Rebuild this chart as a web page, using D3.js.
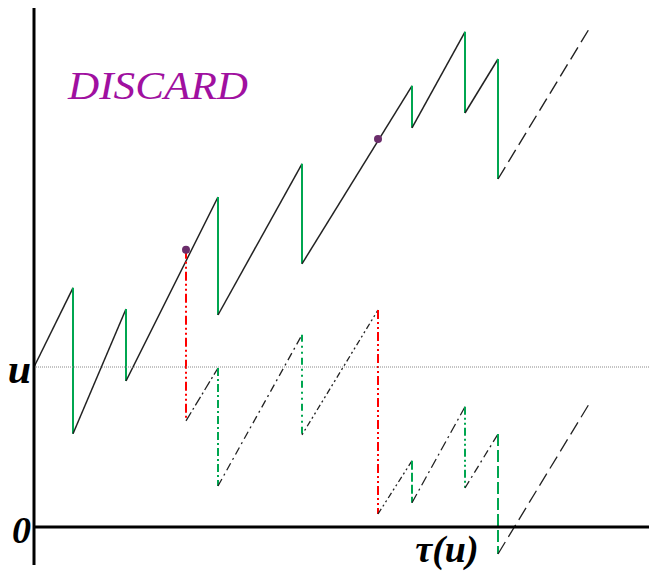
<!DOCTYPE html>
<html>
<head>
<meta charset="utf-8">
<script src="https://cdn.jsdelivr.net/npm/d3@7/dist/d3.min.js"></script>
<style>
html,body{margin:0;padding:0;background:#fff;}
svg{display:block;}
</style>
</head>
<body>
<svg id="chart" width="649" height="572"></svg>
<script>
// ---- data ----
const startLevel = 4.0;           // u
const claimTimes   = [0.975, 2.3, 4.6, 6.7, 9.45, 10.775, 11.6];
const preClaim     = [5.98, 5.45, 8.25, 9.08, 11.03, 12.38, 11.7];
const postClaim    = [2.33, 3.65, 5.3, 6.58, 9.98, 10.35, 8.7];
const discardTimes = [3.8, 8.6];
const discardLevels = [6.93, 9.7];
const discardShift = [4.275, 9.375];   // cumulative drop of lower path
const endTime = 13.925;
const endLevel = 12.53;
const ruinIndex = 6;
const labels = {u: "u", zero: "0", tau: "τ(u)", title: "DISCARD"};

// ---- scales ----
const W = 649, H = 572;
const x = d3.scaleLinear().domain([0, 15.375]).range([34, 649]);
const y = d3.scaleLinear().domain([0, 4]).range([527, 367]);
const svg = d3.select("#chart");

const green = "#00a650", red = "#ff0000", black = "#222";
const line = d3.line().x(d => x(d[0])).y(d => y(d[1]));

// ---- upper (original) path ----
const upper = [[0, startLevel]];
claimTimes.forEach((t, i) => { upper.push([t, preClaim[i]]); upper.push([t, postClaim[i]]); });

// drift segments
let prev = [0, startLevel];
claimTimes.forEach((t, i) => {
  svg.append("path").attr("d", line([prev, [t, preClaim[i]]]))
    .attr("stroke", black).attr("stroke-width", 1.5).attr("fill", "none");
  svg.append("path").attr("d", line([[t, preClaim[i]], [t, postClaim[i]]]))
    .attr("stroke", green).attr("stroke-width", 2).attr("fill", "none");
  prev = [t, postClaim[i]];
});
svg.append("path").attr("d", line([prev, [endTime, endLevel]]))
  .attr("stroke", black).attr("stroke-width", 1.4).attr("fill", "none")
  .attr("stroke-dasharray", "14,6");

// ---- lower (discarded) path ----
function shiftAt(t) {
  let s = 0;
  discardTimes.forEach((d, i) => { if (t >= d) s = discardShift[i]; });
  return s;
}
const driftDash = ["10,3,2,3", "8,4,2,4", "2,3,2,3,6,3", "6,3,2,3,2,3", "10,4,2,4", "8,4,2,4", "14,6"];
const jumpDash = ["8,3,2,3", "7,4,2,4,2,4", "9,3", "8,3,2,3,2,3", "12,4"];
// build lower segments starting after first discard
const events = [];
discardTimes.forEach((t, i) => events.push({t, type: "d", i}));
claimTimes.forEach((t, i) => { if (t > discardTimes[0]) events.push({t, type: "c", i}); });
events.sort((a, b) => a.t - b.t);

let cur = [discardTimes[0], discardLevels[0] - discardShift[0]];
let di = 0, ji = 0;
events.forEach((e, k) => {
  if (e.type === "d") {
    if (k > 0) {
      const top = [e.t, discardLevels[e.i] - discardShift[e.i - 1]];
      svg.append("path").attr("d", line([cur, top]))
        .attr("stroke", black).attr("stroke-width", 1.3).attr("fill", "none")
        .attr("stroke-dasharray", driftDash[di++]);
    }
    const from = e.i === 0 ? [e.t, discardLevels[0]] : [e.t, discardLevels[e.i] - discardShift[e.i - 1]];
    const to = [e.t, discardLevels[e.i] - discardShift[e.i]];
    svg.append("path").attr("d", line([from, to]))
      .attr("stroke", red).attr("stroke-width", 2).attr("fill", "none")
      .attr("stroke-dasharray", "9,3,2,3,2,3");
    cur = to;
  } else {
    const s = shiftAt(e.t);
    const top = [e.t, preClaim[e.i] - s], bot = [e.t, postClaim[e.i] - s];
    svg.append("path").attr("d", line([cur, top]))
      .attr("stroke", black).attr("stroke-width", 1.3).attr("fill", "none")
      .attr("stroke-dasharray", driftDash[di++]);
    svg.append("path").attr("d", line([top, bot]))
      .attr("stroke", green).attr("stroke-width", 2).attr("fill", "none")
      .attr("stroke-dasharray", jumpDash[ji++]);
    cur = bot;
  }
});
svg.append("path").attr("d", line([cur, [endTime, endLevel - shiftAt(endTime)]]))
  .attr("stroke", black).attr("stroke-width", 1.3).attr("fill", "none")
  .attr("stroke-dasharray", driftDash[6]);

// ---- reference line u ----
svg.append("line").attr("x1", x(0)).attr("x2", W).attr("y1", y(startLevel)).attr("y2", y(startLevel))
  .attr("stroke", "#888").attr("stroke-width", 1).attr("stroke-dasharray", "1,1");

// ---- axes ----
svg.append("line").attr("x1", x(0)).attr("x2", x(0)).attr("y1", 8).attr("y2", 565)
  .attr("stroke", "#000").attr("stroke-width", 3);
svg.append("line").attr("x1", x(0)).attr("x2", W).attr("y1", y(0)).attr("y2", y(0))
  .attr("stroke", "#000").attr("stroke-width", 3);

// ---- discard dots ----
discardTimes.forEach((t, i) => {
  svg.append("circle").attr("cx", x(t)).attr("cy", y(discardLevels[i])).attr("r", 4)
    .attr("fill", "#6b2d6b");
});

// ---- text ----
const serif = "'Liberation Serif','DejaVu Serif',serif";
svg.append("text").attr("x", 68).attr("y", 99).text(labels.title)
  .attr("font-family", serif).attr("font-style", "italic").attr("font-size", 40)
  .attr("fill", "#a010a0").attr("textLength", 180).attr("lengthAdjust", "spacingAndGlyphs");
svg.append("text").attr("x", 31).attr("y", y(startLevel) + 16).text(labels.u)
  .attr("text-anchor", "end").attr("font-family", serif).attr("font-style", "italic")
  .attr("font-weight", "bold").attr("font-size", 42).attr("fill", "#000");
svg.append("text").attr("x", 31).attr("y", y(0) + 16).text(labels.zero)
  .attr("text-anchor", "end").attr("font-family", serif).attr("font-style", "italic")
  .attr("font-weight", "bold").attr("font-size", 38).attr("fill", "#000");
svg.append("text").attr("x", x(claimTimes[ruinIndex]) - 51).attr("y", 562).text(labels.tau)
  .attr("text-anchor", "middle").attr("font-family", serif).attr("font-style", "italic")
  .attr("font-weight", "bold").attr("font-size", 38).attr("fill", "#000");
</script>
</body>
</html>
